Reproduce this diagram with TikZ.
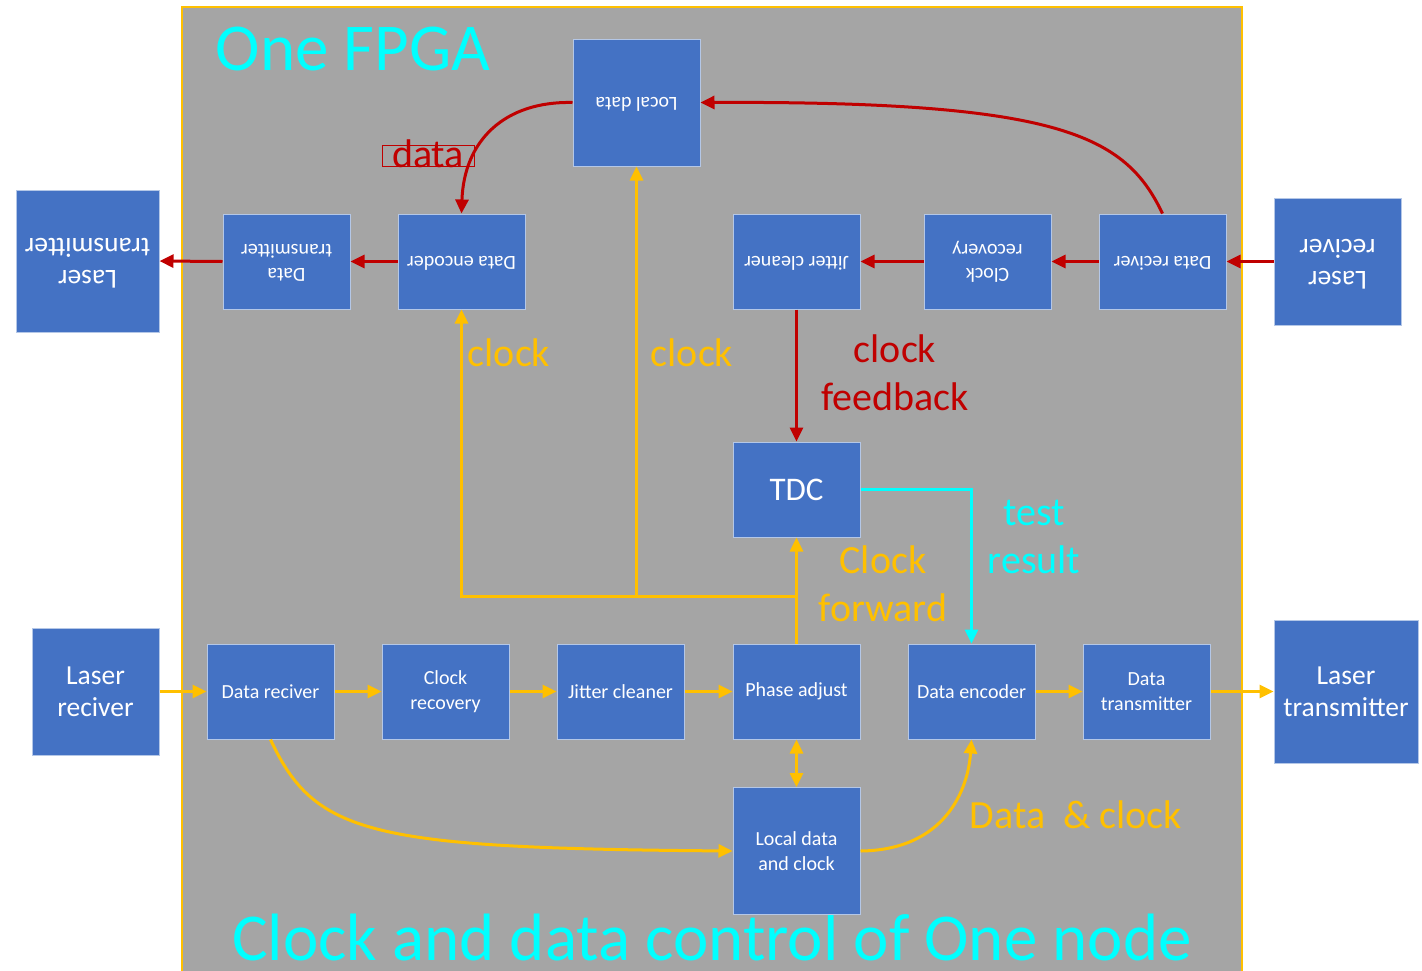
\documentclass[tikz,border=0pt]{standalone}
\usepackage{fontspec}
\setmainfont{Carlito}
\usepackage{graphicx}
\usetikzlibrary{arrows.meta}
\definecolor{boxblue}{HTML}{4472C4}
\definecolor{boxedge}{HTML}{B4C7E7}
\definecolor{fpgagray}{HTML}{A5A5A5}
\definecolor{gold}{HTML}{FFC000}
\definecolor{darkred}{HTML}{C00000}
\definecolor{aqua}{HTML}{00FFFF}
\newcommand{\flipped}[1]{\rotatebox[origin=c]{180}{\begin{tabular}{@{}c@{}}#1\end{tabular}}}
\tikzset{
  blk/.style={draw=boxedge, line width=1pt, fill=boxblue, minimum width=127pt, minimum height=95pt,
    inner sep=0pt, text=white, align=center, font=\fontsize{20}{24.5}\selectfont},
  bigblk/.style={blk, minimum height=127pt},
  laser/.style={blk, font=\fontsize{27.5}{32}\selectfont},
  redarr/.style={draw=darkred, line width=3pt, -{Triangle[length=14pt,width=13pt]}},
  goldarr/.style={draw=gold, line width=3pt, -{Triangle[length=14pt,width=13pt]}},
  goldline/.style={draw=gold, line width=3pt},
  aquaarr/.style={draw=aqua, line width=3pt, -{Triangle[length=14pt,width=13pt]}},
  lbl/.style={anchor=base, align=center, font=\fontsize{40}{48}\selectfont, inner sep=0pt},
  title/.style={anchor=base, text=aqua, font=\fontsize{67}{80}\selectfont, inner sep=0pt}
}
\begin{document}
\begin{tikzpicture}[x=1pt, y=-1pt]
\useasboundingbox (0,0) rectangle (1422,970);
\fill[white] (0,0) rectangle (1422,970);
% FPGA area
\filldraw[fill=fpgagray, draw=gold, line width=1.5pt] (182,7) rectangle (1242,980);
\node[title] (fpga) at (353,70) {One FPGA};
\node[title] (caption) at (712,960) {Clock and data control of One node};

% top row (upside down)
\node[laser, minimum width=143pt, minimum height=142pt] (ltx_t) at (87.5,261) {\flipped{Laser\\transmitter}};
\node[blk] (dtx_t) at (286.5,261.5) {\flipped{Data\\transmitter}};
\node[blk] (denc_t) at (461.5,261.5) {\flipped{Data encoder}};
\node[bigblk] (ldata) at (636.5,102.5) {\flipped{Local data}};
\node[blk] (jit_t) at (796.5,261.5) {\flipped{Jitter cleaner}};
\node[blk] (crec_t) at (987.5,261.5) {\flipped{Clock\\recovery}};
\node[blk] (drec_t) at (1162.5,261.5) {\flipped{Data reciver}};
\node[laser, minimum height=127pt] (lrx_t) at (1337.5,261.5) {\flipped{Laser\\reciver}};

% middle
\node[blk, font=\fontsize{33}{36}\selectfont] (tdc) at (796.5,489.5) {TDC};

% bottom row
\node[laser, minimum height=127pt] (lrx_b) at (95.5,691.5) {Laser\\reciver};
\node[blk] (drec_b) at (270.5,691.5) {Data reciver};
\node[blk] (crec_b) at (445.5,691.5) {Clock\\recovery};
\node[blk] (jit_b) at (620.5,691.5) {Jitter cleaner};
\node[blk] (phase) at (796.5,691.5) {Phase adjust};
\node[blk] (denc_b) at (971.5,691.5) {Data encoder};
\node[blk] (dtx_b) at (1146.5,691.5) {Data\\transmitter};
\node[laser, minimum width=144pt, minimum height=143pt] (ltx_b) at (1346,691.5) {Laser\\transmitter};
\node[bigblk] (ldc) at (796.5,851) {Local data\\and clock};

% red connectors (top)
\draw[redarr] (lrx_t.west) -- (drec_t.east);
\draw[redarr] (drec_t.west) -- (crec_t.east);
\draw[redarr] (crec_t.west) -- (jit_t.east);
\draw[redarr] (denc_t.west) -- (dtx_t.east);
\draw[redarr] (dtx_t.west) -- (ltx_t.east);
\draw[redarr] (drec_t.north) .. controls (1125,135) and (1060,101) .. (ldata.east);
\draw[redarr] (ldata.west) .. controls (505,101) and (464,140) .. (denc_t.north);
\draw[redarr] (jit_t.south) -- (tdc.north);

% yellow connectors (bottom)
\draw[goldarr] (lrx_b.east) -- (drec_b.west);
\draw[goldarr] (drec_b.east) -- (crec_b.west);
\draw[goldarr] (crec_b.east) -- (jit_b.west);
\draw[goldarr] (jit_b.east) -- (phase.west);
\draw[goldarr] (denc_b.east) -- (dtx_b.west);
\draw[goldarr] (dtx_b.east) -- (ltx_b.west);
\draw[goldarr] (phase.north) -- (tdc.south);
\coordinate (branch) at (796.5,596);
\draw[goldarr] (branch) -| (denc_t.south);
\draw[goldarr] (ldata.south |- branch) -- (ldata.south);
\draw[draw=gold, line width=3pt, {Triangle[length=14pt,width=13pt]}-{Triangle[length=14pt,width=13pt]}] (phase.south) -- (ldc.north);
\draw[goldarr] (drec_b.south) .. controls (315,835) and (370,848) .. (ldc.west);
\draw[goldarr] (ldc.east) .. controls (945,850) and (968,790) .. (denc_b.south);

% cyan connector
\draw[aquaarr] (tdc.east) -| (denc_b.north);

% labels
\draw[darkred, line width=1pt] (382,145) rectangle (474,166);
\node[lbl, text=darkred] (lbldata) at (428,167) {data};
\node[lbl, text=gold] (lblclk1) at (509,366) {clock};
\node[lbl, text=gold] (lblclk2) at (692,366) {clock};
\node[lbl, text=darkred] (lblfb) at (895,410) {clock\\feedback};
\node[lbl, text=gold] (lblfwd) at (883,621) {Clock\\forward};
\node[lbl, text=aqua] (lbltest) at (1034,573) {test\\result};
\node[lbl, text=gold] (lbldc) at (1076,828) {Data\ \ \&\ clock};
\end{tikzpicture}
\end{document}
